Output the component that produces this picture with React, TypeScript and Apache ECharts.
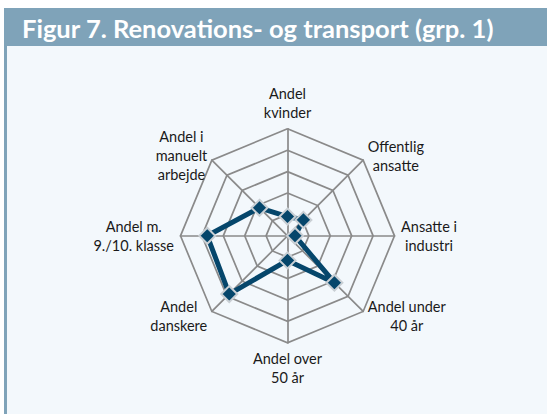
import React, { useEffect, useRef } from "react";
import * as echarts from "echarts";

const indicatorNames = [
  "Andel\nkvinder",
  "Andel i\nmanuelt\narbejde",
  "Andel m.\n9./10. klasse",
  "Andel\ndanskere",
  "Andel over\n50 år",
  "Andel under\n40 år",
  "Ansatte i\nindustri",
  "Offentlig\nansatte",
];
const seriesValues = [18, 37, 75, 77, 23, 62, 7, 21];
const axisMax = 100;
const titleText = "Figur 7. Renovations- og transport (grp. 1)";

export default function App() {
  const ref = useRef<HTMLDivElement>(null);
  useEffect(() => {
    if (!ref.current) return;
    const chart = echarts.init(ref.current, undefined, { renderer: "svg" });
    chart.setOption({
      animation: false,
      backgroundColor: "#ffffff",
      graphic: [
        { type: "rect", z: -10, shape: { x: 4, y: 46, width: 543, height: 368 }, style: { fill: "#f3f8fc" } },
        { type: "rect", z: -9, shape: { x: 4, y: 46, width: 3, height: 368 }, style: { fill: "#7fa3b9" } },
        { type: "rect", z: -9, shape: { x: 4, y: 8, width: 543, height: 38 }, style: { fill: "#7fa3b9" } },
        {
          type: "text",
          z: 10,
          x: 22,
          y: 28,
          style: {
            text: titleText,
            fill: "#ffffff",
            font: "bold 25.5px Lato",
            verticalAlign: "middle",
            textAlign: "left",
          },
        },
      ],
      radar: {
        center: [287.5, 235.8],
        radius: 107,
        startAngle: 90,
        splitNumber: 5,
        shape: "polygon",
        nameGap: 6.5,
        indicator: indicatorNames.map((n) => ({ name: n, max: axisMax, min: 0 })),
        axisName: {
          color: "#1a1a1a",
          fontFamily: "Lato",
          fontSize: 14.5,
          lineHeight: 19,
          formatter: (name: string) =>
            name
              .split("\n")
              .map((l) => `{c|${l}}`)
              .join("\n"),
          rich: {
            c: { align: "center", fontFamily: "Lato", fontSize: 14.5, lineHeight: 19, color: "#1a1a1a" },
          },
        },
        splitLine: { lineStyle: { color: "#8a8a8a", width: 1.7 } },
        axisLine: { lineStyle: { color: "#8a8a8a", width: 1.7 } },
        splitArea: { show: false },
        axisTick: { show: false },
        axisLabel: { show: false },
      },
      series: [
        {
          type: "radar",
          symbol: "diamond",
          symbolSize: 16,
          lineStyle: { color: "#05466b", width: 5 },
          itemStyle: { color: "#05466b", borderColor: "#c9cfd4", borderWidth: 2 },
          data: [{ value: seriesValues, name: "Gruppe 1" }],
        },
      ],
    });
    return () => chart.dispose();
  }, []);
  return (
    <div style={{ position: "fixed", left: 0, top: 0, width: 547, height: 414 }}>
      <div ref={ref} style={{ width: 547, height: 414 }} />
    </div>
  );
}
